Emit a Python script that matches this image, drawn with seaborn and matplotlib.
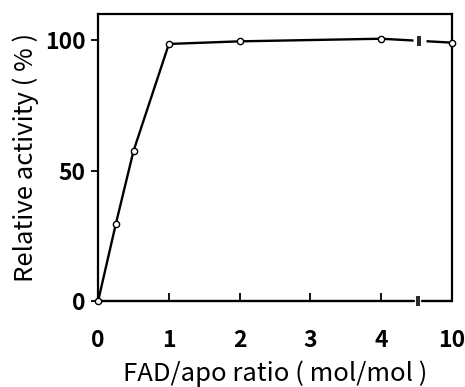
import matplotlib
matplotlib.use("Agg")
import matplotlib.pyplot as plt
import seaborn as sns
import pandas as pd
import numpy as np

# data
ratio_labels = ["0", "0.25", "0.5", "1", "2", "4", "10"]
ratio_pos = [0, 0.25, 0.5, 1, 2, 4, 5]          # axis position (10 shown after break)
activity = [0, 29.5, 57.5, 98.5, 99.5, 100.5, 99.0]
xtick_pos = [0, 1, 2, 3, 4, 5]
xtick_labels = ["0", "1", "2", "3", "4", "10"]
ytick_vals = [0, 50, 100]
break_x = 4.5

sns.set_style("ticks")
plt.rcParams['font.family'] = ['Noto Sans CJK JP', 'DejaVu Sans']
plt.rcParams['text.color'] = 'black'
plt.rcParams['axes.labelcolor'] = 'black'
plt.rcParams['xtick.color'] = 'black'
plt.rcParams['ytick.color'] = 'black'

fig = plt.figure(figsize=(4.65, 3.87), dpi=100)
ax = fig.add_axes([0.211, 0.222, 0.761, 0.742])

df = pd.DataFrame({"x": ratio_pos, "y": activity})
sns.lineplot(data=df, x="x", y="y", ax=ax, color="black", linewidth=1.7,
             marker="o", markersize=4.5, markerfacecolor="white",
             markeredgecolor="black", markeredgewidth=1.0, zorder=5,
             clip_on=False)

ax.set_xlim(0, 5)
ax.set_ylim(0, 110)
ax.set_xticks(xtick_pos)
ax.set_xticklabels(xtick_labels)
ax.set_yticks(ytick_vals)
ax.tick_params(axis="x", direction="in", length=6, width=1.3, labelsize=16.5, pad=20)
ax.tick_params(axis="y", direction="out", length=5, width=1.3, labelsize=16.5, pad=4)
for lbl in ax.get_xticklabels() + ax.get_yticklabels():
    lbl.set_fontweight("bold")
for s in ax.spines.values():
    s.set_linewidth(1.6)
    s.set_visible(True)
    s.set_color("black")
ax.spines["bottom"].set_visible(False)

# bottom axis with break
ax.plot([0, break_x - 0.04], [0, 0], color="black", lw=1.7, clip_on=False, zorder=4)
ax.plot([break_x + 0.08, 5], [0, 0], color="black", lw=1.7, clip_on=False, zorder=4)
ax.plot([break_x + 0.005, break_x + 0.035], [0, 0], ls="none", marker="|", ms=7,
        mew=1.2, color="black", clip_on=False, zorder=4)

# break in data line between 4 and 10
y_br = np.interp(break_x, ratio_pos[-2:], activity[-2:])
ax.plot([break_x - 0.05, break_x + 0.13], [y_br, y_br], color="white", lw=5,
        solid_capstyle="butt", zorder=5.5)
ax.plot([break_x + 0.025, break_x + 0.055], [y_br, y_br], ls="none", marker="|",
        ms=7, mew=1.2, color="black", zorder=6)

ax.set_xlabel("FAD/apo ratio ( mol/mol )", fontsize=18.5, labelpad=6)
ax.set_ylabel("Relative activity ( % )", fontsize=18.5, labelpad=4)

fig.savefig("out.png", dpi=100)
